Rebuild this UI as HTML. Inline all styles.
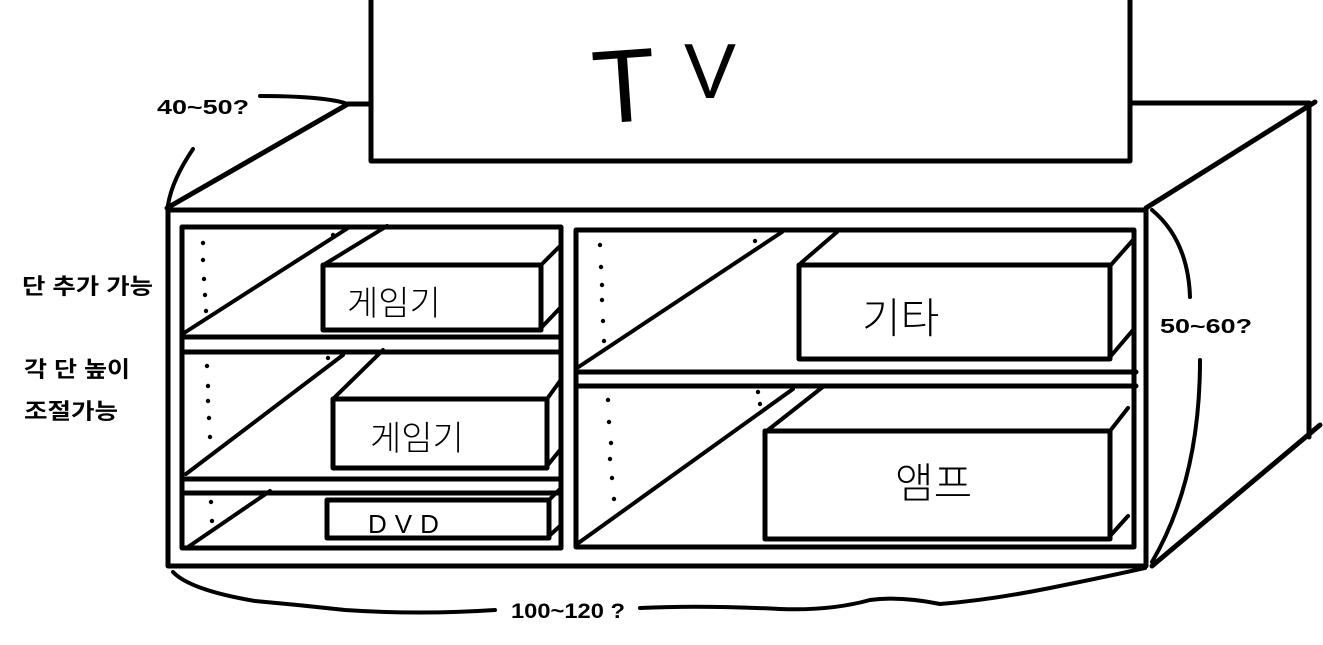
<!DOCTYPE html>
<html><head><meta charset="utf-8"><style>
html,body{margin:0;padding:0;background:#fff;width:1323px;height:645px;overflow:hidden}
svg{display:block}
.b{font-family:"Liberation Sans","Noto Sans CJK KR",sans-serif;font-weight:bold;fill:#000}
.h{font-family:"Liberation Sans","Noto Sans CJK KR",sans-serif;font-weight:300;fill:#000}
</style></head><body>
<svg width="1323" height="645" viewBox="0 0 1323 645" xmlns="http://www.w3.org/2000/svg">
<g fill="none" stroke="#000" stroke-linecap="round" stroke-linejoin="round">
<rect x="371" y="-10" width="759" height="171" stroke-width="5"/>
<line x1="167" y1="208" x2="348" y2="104" stroke-width="5"/>
<line x1="348" y1="104" x2="371" y2="104" stroke-width="5"/>
<line x1="1130" y1="103" x2="1309" y2="103" stroke-width="5"/>
<line x1="1315" y1="102" x2="1146" y2="208" stroke-width="5"/>
<line x1="1309" y1="103" x2="1309" y2="437" stroke-width="5"/>
<line x1="1320" y1="425" x2="1152" y2="566" stroke-width="5"/>
<rect x="168" y="210" width="978" height="356" stroke-width="5"/>
<rect x="182" y="227" width="379" height="321" stroke-width="5"/>
<line x1="182" y1="337" x2="561" y2="337" stroke-width="5"/>
<line x1="182" y1="352" x2="561" y2="352" stroke-width="5"/>
<line x1="182" y1="479" x2="561" y2="479" stroke-width="5"/>
<line x1="182" y1="493" x2="561" y2="493" stroke-width="5"/>
<line x1="184" y1="333" x2="348" y2="228" stroke-width="4"/>
<rect x="323" y="265" width="218" height="65" stroke-width="5"/>
<line x1="325" y1="264" x2="387" y2="226" stroke-width="4"/>
<line x1="541" y1="265" x2="560" y2="246" stroke-width="4"/>
<line x1="541" y1="328" x2="560" y2="308" stroke-width="4"/>
<line x1="186" y1="474" x2="343" y2="355" stroke-width="4"/>
<rect x="333" y="399" width="214" height="69" stroke-width="5"/>
<line x1="335" y1="397" x2="383" y2="350" stroke-width="4"/>
<line x1="547" y1="399" x2="560" y2="381" stroke-width="4"/>
<line x1="547" y1="466" x2="560" y2="450" stroke-width="4"/>
<line x1="188" y1="547" x2="270" y2="491" stroke-width="4"/>
<rect x="327" y="500" width="222" height="38" stroke-width="5"/>
<line x1="549" y1="500" x2="560" y2="489" stroke-width="4"/>
<line x1="549" y1="536" x2="560" y2="526" stroke-width="4"/>
<rect x="576" y="230" width="558" height="317" stroke-width="5"/>
<line x1="576" y1="372" x2="1136" y2="372" stroke-width="5"/>
<line x1="576" y1="386" x2="1136" y2="386" stroke-width="5"/>
<line x1="577" y1="368" x2="782" y2="232" stroke-width="4"/>
<rect x="799" y="265" width="311" height="94" stroke-width="5"/>
<line x1="801" y1="263" x2="837" y2="232" stroke-width="4"/>
<line x1="1110" y1="266" x2="1133" y2="240" stroke-width="4"/>
<line x1="1110" y1="357" x2="1133" y2="330" stroke-width="4"/>
<line x1="577" y1="544" x2="793" y2="389" stroke-width="4"/>
<rect x="765" y="431" width="345" height="108" stroke-width="5"/>
<line x1="768" y1="430" x2="824" y2="386" stroke-width="4"/>
<line x1="1110" y1="431" x2="1128" y2="408" stroke-width="4"/>
<line x1="1110" y1="536" x2="1128" y2="516" stroke-width="4"/>
<path d="M260 96 Q320 96 345 103" stroke-width="4"/>
<path d="M193 149 Q172 180 168 205" stroke-width="4"/>
<path d="M1152 210 Q1188 240 1190 297" stroke-width="4"/>
<path d="M1200 360 Q1200 480 1152 562" stroke-width="4"/>
<path d="M173 572 Q190 590 255 601 Q300 605 345 610 Q420 615 495 610" stroke-width="4"/>
<path d="M640 608 Q700 605 780 609 Q830 611 870 600 Q900 596 940 604 Q990 600 1050 588 Q1110 576 1145 568" stroke-width="4"/>
</g>
<g fill="#000">
<circle cx="203" cy="243" r="2.2"/><circle cx="203" cy="260" r="2.2"/><circle cx="204" cy="279" r="2.2"/><circle cx="205" cy="295" r="2.2"/><circle cx="206" cy="311" r="2.2"/><circle cx="333" cy="235" r="2.2"/>
<circle cx="207" cy="366" r="2.2"/><circle cx="208" cy="386" r="2.2"/><circle cx="208" cy="401" r="2.2"/><circle cx="209" cy="418" r="2.2"/><circle cx="210" cy="437" r="2.2"/><circle cx="328" cy="358" r="2.2"/>
<circle cx="211" cy="502" r="2.2"/><circle cx="212" cy="521" r="2.2"/>
<circle cx="600" cy="245" r="2.2"/><circle cx="601" cy="267" r="2.2"/><circle cx="602" cy="285" r="2.2"/><circle cx="602" cy="300" r="2.2"/><circle cx="603" cy="321" r="2.2"/><circle cx="604" cy="341" r="2.2"/><circle cx="755" cy="241" r="2.2"/>
<circle cx="608" cy="400" r="2.2"/><circle cx="609" cy="422" r="2.2"/><circle cx="611" cy="443" r="2.2"/><circle cx="610" cy="459" r="2.2"/><circle cx="612" cy="478" r="2.2"/><circle cx="614" cy="499" r="2.2"/><circle cx="758" cy="392" r="2.2"/><circle cx="760" cy="404" r="2.2"/>
</g>
<text x="592" y="122" class="h" font-size="104" transform="rotate(-4 620 80)">T</text>
<text x="684" y="98" class="h" font-size="78">V</text>
<text x="157" y="114" class="b" font-size="20" textLength="92" lengthAdjust="spacingAndGlyphs">40~50?</text>
<text x="1160" y="333" class="b" font-size="20" textLength="92" lengthAdjust="spacingAndGlyphs">50~60?</text>
<text x="511" y="618" class="b" font-size="21" textLength="114" lengthAdjust="spacingAndGlyphs">100~120 ?</text>
<text x="22" y="294" class="b" font-size="22" textLength="131" lengthAdjust="spacingAndGlyphs">단 추가 가능</text>
<text x="24" y="377" class="b" font-size="22" textLength="106" lengthAdjust="spacingAndGlyphs">각 단 높이</text>
<text x="24" y="419" class="b" font-size="22" textLength="94" lengthAdjust="spacingAndGlyphs">조절가능</text>
<text x="347" y="315" class="h" font-size="34">게임기</text>
<text x="370" y="450" class="h" font-size="34">게임기</text>
<text x="368" y="533" class="h" font-size="26" letter-spacing="8">DVD</text>
<text x="862" y="333" class="h" font-size="42">기타</text>
<text x="895" y="498" class="h" font-size="42">앰프</text>
</svg>
</body></html>
